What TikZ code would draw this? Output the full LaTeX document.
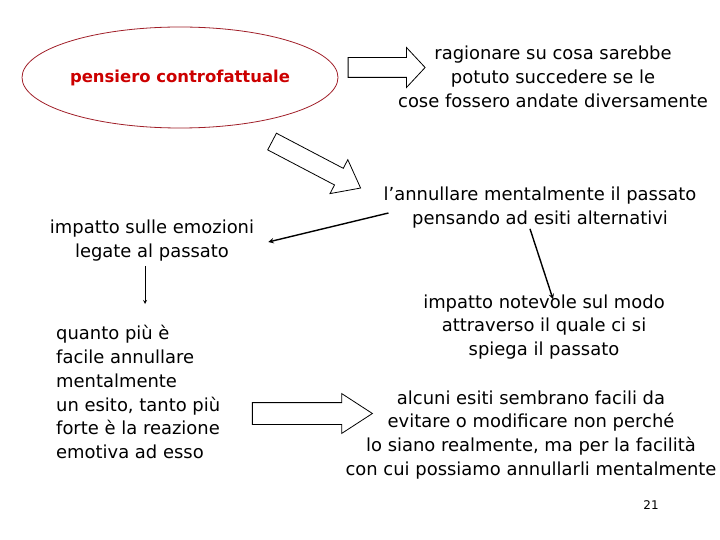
\documentclass[tikz,border=0pt]{standalone}
\usepackage{fontspec}
\setmainfont{DejaVu Sans}
\usepackage{tikz}
\usetikzlibrary{shapes,arrows,positioning,calc}
\definecolor{titlered}{RGB}{204,0,0}
\definecolor{ovalred}{RGB}{160,30,40}

\begin{document}
\begin{tikzpicture}[x=1bp,y=-1bp]
    % Define styles
    \tikzstyle{txt} = [align=center, font=\fontsize{18}{24}\selectfont, inner sep=0pt]
    \tikzstyle{oval} = [ellipse, draw=ovalred, line width=0.8bp, minimum width=316bp, minimum height=101bp, inner sep=0pt]
    \tikzstyle{bigarrow} = [single arrow, draw, line width=0.8bp, fill=white, inner xsep=0pt, minimum width=0pt]
    \tikzstyle{arrow} = [line width=1.4bp,->,>=stealth]

    \useasboundingbox (0,0) rectangle (720,540);

    % Title
    \node[oval] (pensiero) at (180,77.5) {\fontsize{16.5}{20}\selectfont\bfseries\color{titlered}pensiero controfattuale};

    % Texts
    \node[txt] (ragionare) at (553,77) {ragionare su cosa sarebbe\\potuto succedere se le\\cose fossero andate diversamente};
    \node[txt] (annul) at (540,208) {l'annullare mentalmente il passato\\pensando ad esiti alternativi};
    \node[txt] (emozioni) at (152,241) {impatto sulle emozioni\\legate al passato};
    \node[txt] (modo) at (544,327) {impatto notevole sul modo\\attraverso il quale ci si\\spiega il passato};
    \node[txt, align=left, anchor=west] (quanto) at (56,392) {quanto più è\\facile annullare\\mentalmente\\un esito, tanto più\\forte è la reazione\\emotiva ad esso};
    \node[txt] (esiti) at (531,435) {alcuni esiti sembrano facili da\\evitare o modificare non perché\\lo siano realmente, ma per la facilità\\con cui possiamo annullarli mentalmente};
    \node[font=\fontsize{12}{14}\selectfont\rmfamily] (pagina) at (651,505) {21};

    % Block arrows
    \node[bigarrow, minimum height=77bp, inner ysep=9.5bp, single arrow head extend=10bp, single arrow tip angle=94] (freccia1) at (382,67.5) {};
    \node[bigarrow, minimum height=100bp, inner ysep=9bp, single arrow head extend=9.75bp, single arrow tip angle=76, rotate=-27.7] (freccia2) at (311,162) {};
    \node[bigarrow, minimum height=120bp, inner ysep=10.5bp, single arrow head extend=9bp, single arrow tip angle=66] (freccia3) at (304,413.5) {};

    % Arrows
    \coordinate (giu) at (145,304);
    \draw[arrow] ($(annul.west)+(5,5)$) -- ($(emozioni.east)+(14,1)$);
    \draw[arrow] ($(annul.south)+(-10,0)$) -- ($(modo.north)+(9,5)$);
    \draw[line width=0.8bp,->,>=stealth, shorten <=4bp] (emozioni.south -| giu) -- (giu);

\end{tikzpicture}
\end{document}
